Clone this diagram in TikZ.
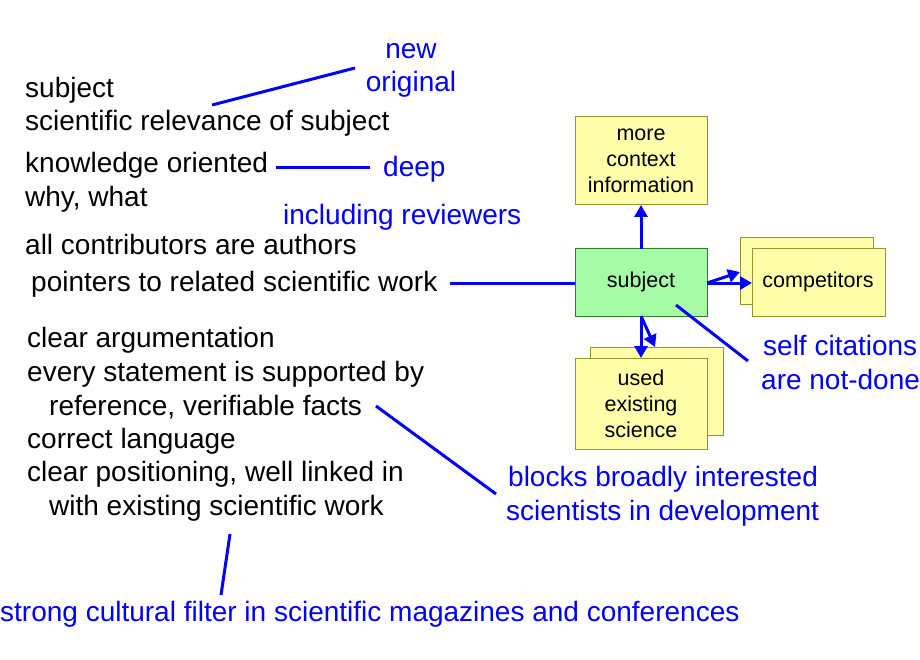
\documentclass[tikz,border=0pt]{standalone}
\usepackage{fontspec}
\setmainfont{Liberation Sans}
\usetikzlibrary{arrows.meta}
\definecolor{bl}{RGB}{0,0,255}
\definecolor{yel}{RGB}{255,255,170}
\definecolor{yb}{RGB}{150,150,40}
\definecolor{grn}{RGB}{166,251,166}
\definecolor{gb}{RGB}{40,130,40}
\begin{document}
\begin{tikzpicture}[x=1pt,y=-1pt,
  txt/.style={anchor=west,inner sep=0pt,font=\fontsize{28}{32}\selectfont},
  btxt/.style={txt,text=bl},
  ybox/.style={draw=yb,fill=yel,line width=1pt},
  bline/.style={draw=bl,line width=3pt},
  barr/.style={bline,-{Triangle[length=12pt,width=13pt]}},
  lbl/.style={inner sep=0pt,align=center,font=\fontsize{21.5}{26}\selectfont}]
\useasboundingbox (0,0) rectangle (920,660);
% boxes
\draw[ybox] (575,117) rectangle (707,205);
\node[lbl] (more) at (641,161) {more\\context\\information};
\coordinate (moreS) at (641,205);
\draw[ybox] (740,238) rectangle (873,304);
\draw[ybox] (752,249) rectangle (885,316);
\node[lbl] (comp) at (818,282) {competitors};
\draw[ybox] (590,347) rectangle (723,435);
\draw[ybox] (575,358) rectangle (707,449);
\node[lbl] (used) at (641,404) {used\\existing\\science};
\draw[draw=gb,fill=grn,line width=1pt] (575,249) rectangle (707,316);
\node[lbl] (subj) at (641,282) {subject};
\coordinate (sT) at (641,249); \coordinate (sR) at (707,283); \coordinate (sB) at (641,316);
\coordinate (sL) at (575,283);
\draw[barr] (sT) -- (moreS);
\draw[barr] (sR) -- (752,283);
\draw[barr] (sR) -- (740,272);
\draw[barr] (sB) -- (641,358);
\draw[barr] (sB) -- (655,347);
% left texts
\node[txt] (t1) at (25,90) {subject};
\node[txt] (t2) at (25,123) {scientific relevance of subject};
\node[txt] (t3) at (25,165) {knowledge oriented};
\node[txt] (t4) at (25,199) {why, what};
\node[txt] (t5) at (25,244) {all contributors are authors};
\node[txt] (t6) at (31,284) {pointers to related scientific work};
\node[txt] (t7) at (27,340) {clear argumentation};
\node[txt] (t8) at (27,374) {every statement is supported by};
\node[txt] (t9) at (49,407) {reference, verifiable facts};
\node[txt] (t10) at (27,441) {correct language};
\node[txt] (t11) at (27,474) {clear positioning, well linked in};
\node[txt] (t12) at (49,508) {with existing scientific work};
% blue texts
\node[btxt,anchor=center] (b1) at (411,51) {new};
\node[btxt,anchor=center] (b2) at (411,84) {original};
\node[btxt] (b3) at (383,169) {deep};
\node[btxt] (b4) at (283,217) {including reviewers};
\node[btxt] (b5) at (763,345) {self citations};
\node[btxt] (b6) at (761,379) {are not-done};
\node[btxt] (b7) at (508,479) {blocks broadly interested};
\node[btxt] (b8) at (506,513) {scientists in development};
\node[btxt] (b9) at (0,614) {strong cultural filter in scientific magazines and conferences};
% blue lines
\draw[bline] (212,105) -- (355,68);
\draw[bline] (276,168) -- (370,168);
\draw[bline] (450,283) -- (sL);
\draw[bline] (676,305) -- (748,361);
\draw[bline] (376,406) -- (496,494);
\draw[bline] (230,534) -- (221,595);
\end{tikzpicture}
\end{document}
